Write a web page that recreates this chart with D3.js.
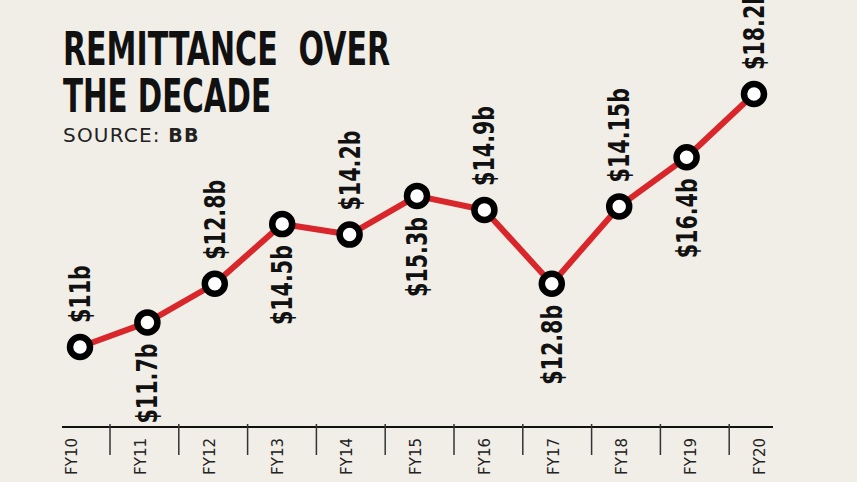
<!DOCTYPE html>
<html>
<head>
<meta charset="utf-8">
<script src="https://cdn.jsdelivr.net/npm/d3@7/dist/d3.min.js"></script>
<style>
  html, body { margin: 0; padding: 0; background: #f1eee7; }
  svg { display: block; }
</style>
</head>
<body>
<svg id="chart" width="857" height="482"></svg>
<script>
// ---- data ----
const categories = ["FY10","FY11","FY12","FY13","FY14","FY15","FY16","FY17","FY18","FY19","FY20"];
// plotted heights (US$ billion)
const values = [11, 11.7, 12.8, 14.5, 14.2, 15.3, 14.9, 12.8, 15.0, 16.4, 18.2];
// printed labels
const valueLabels = ["$11b","$11.7b","$12.8b","$14.5b","$14.2b","$15.3b","$14.9b","$12.8b","$14.15b","$16.4b","$18.2b"];
const titleLines = ["REMITTANCE  OVER", "THE DECADE"];
const sourceLabel = "SOURCE: ";
const sourceName = "BB";

// ---- drawing ----
const W = 857, H = 482;
const svg = d3.select("#chart");
svg.append("rect").attr("width", W).attr("height", H).attr("fill", "#f1eee7");

const condensed = "'DejaVu Sans Condensed', 'Liberation Sans Narrow', 'Arial Narrow', sans-serif";

// title
const titleWidths = [327, 208];
titleLines.forEach((t, i) => {
  svg.append("text")
    .attr("x", 63).attr("y", 65 + i * 46.5)
    .attr("font-family", condensed)
    .attr("font-weight", "bold")
    .attr("font-size", 46)
    .attr("textLength", titleWidths[i])
    .attr("lengthAdjust", "spacingAndGlyphs")
    .attr("fill", "#111")
    .style("white-space", "pre")
    .text(t);
});
const src = svg.append("text")
  .attr("x", 63).attr("y", 142)
  .attr("font-family", "'DejaVu Sans', Verdana, sans-serif")
  .attr("font-size", 20)
  .attr("letter-spacing", 1.2)
  .attr("fill", "#222")
  .style("white-space", "pre");
src.append("tspan").text(sourceLabel);
src.append("tspan").attr("font-weight", "bold").attr("font-size", 19).text(sourceName);

// scales
const xBand = d3.scaleBand().domain(categories).range([41.2, 798]).padding(0);
const xPt = d3.scalePoint().domain(categories).range([80, 754]);
const y = d3.scaleLinear().domain([11, 18.2]).range([347, 94]);

// x axis
const axisY = 427;
svg.append("line")
  .attr("x1", 62).attr("x2", 773).attr("y1", axisY).attr("y2", axisY)
  .attr("stroke", "#111").attr("stroke-width", 2);

svg.append("g").selectAll("line")
  .data(categories.slice(1))
  .join("line")
  .attr("x1", d => xBand(d)).attr("x2", d => xBand(d))
  .attr("y1", 424).attr("y2", 455)
  .attr("stroke", "#333").attr("stroke-width", 1.5);

svg.append("g").selectAll("text")
  .data(categories)
  .join("text")
  .attr("transform", d => `translate(${xBand(d) + xBand.bandwidth() / 2 - 4},438) rotate(-90)`)
  .attr("text-anchor", "end")
  .attr("dy", "0.36em")
  .attr("font-family", "'DejaVu Sans', Verdana, sans-serif")
  .attr("font-size", 15)
  .attr("fill", "#222")
  .text(d => d);

// line
const pts = categories.map((c, i) => ({c, v: values[i], label: valueLabels[i], i}));
svg.append("path")
  .datum(pts)
  .attr("fill", "none")
  .attr("stroke", "#d8262b")
  .attr("stroke-width", 6)
  .attr("stroke-linejoin", "round")
  .attr("d", d3.line().x(d => xPt(d.c)).y(d => y(d.v)));

// markers
svg.append("g").selectAll("circle")
  .data(pts)
  .join("circle")
  .attr("cx", d => xPt(d.c)).attr("cy", d => y(d.v))
  .attr("r", 10)
  .attr("fill", "#fff")
  .attr("stroke", "#000")
  .attr("stroke-width", 6.5);

// value labels (alternating above / below)
svg.append("g").selectAll("text")
  .data(pts)
  .join("text")
  .attr("transform", d => {
    const above = d.i % 2 === 0;
    const yy = above ? y(d.v) - 24 : y(d.v) + 21;
    return `translate(${xPt(d.c)},${yy}) rotate(-90) scale(0.82,1)`;
  })
  .attr("text-anchor", d => d.i % 2 === 0 ? "start" : "end")
  .attr("dy", "0.36em")
  .attr("font-family", condensed)
  .attr("font-weight", "bold")
  .attr("font-size", 28)
  .attr("fill", "#111")
  .text(d => d.label);
</script>
</body>
</html>
